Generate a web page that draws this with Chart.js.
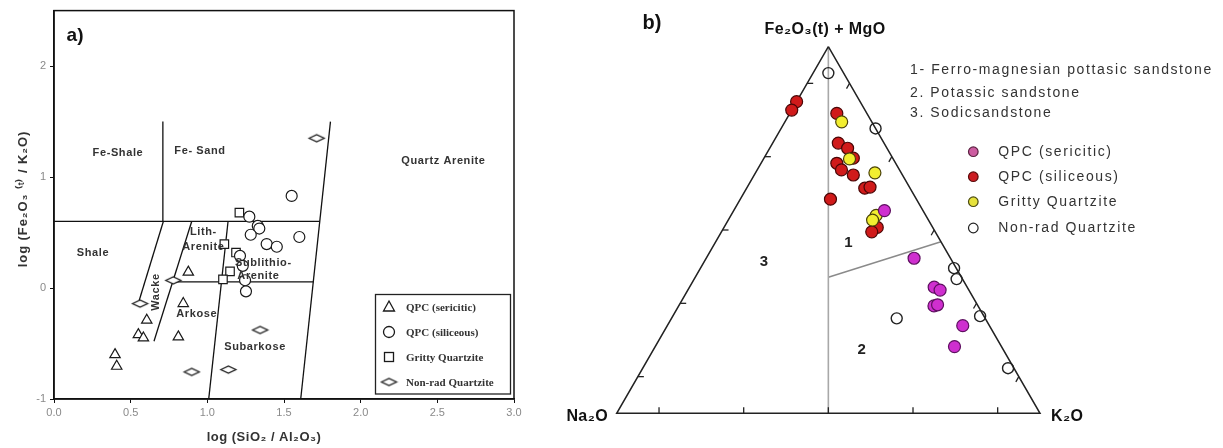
<!DOCTYPE html>
<html><head><meta charset="utf-8">
<script src="https://cdn.jsdelivr.net/npm/chart.js@4.4.1/dist/chart.umd.min.js"></script>
<style>
html,body{margin:0;padding:0;background:#fff;}
#wrap{position:relative;width:1223px;height:448px;overflow:hidden;background:#fff;}
#c1{position:absolute;left:0;top:0;}
#c2{position:absolute;left:560px;top:0;}
</style></head><body>
<div id="wrap"><canvas id="c1" width="560" height="448"></canvas><canvas id="c2" width="663" height="448"></canvas></div>
<script>
// ---------- Panel a) data : log(SiO2/Al2O3) vs log(Fe2O3(t)/K2O) ----------
const sericiticX = [0.876, 0.843, 0.605, 0.55, 0.583, 0.811, 0.398, 0.409];
const sericiticY = [0.143, -0.14, -0.29, -0.42, -0.45, -0.44, -0.60, -0.705];
const siliceousX = [1.55, 1.274, 1.329, 1.339, 1.283, 1.387, 1.453, 1.60, 1.213, 1.231, 1.246, 1.252];
const siliceousY = [0.83, 0.643, 0.56, 0.536, 0.48, 0.396, 0.372, 0.46, 0.29, 0.20, 0.07, -0.03];
const grittyX = [1.209, 1.111, 1.187, 1.148, 1.102];
const grittyY = [0.68, 0.396, 0.32, 0.15, 0.078];
const nonradX = [1.713, 0.561, 0.778, 1.344, 0.898, 1.137];
const nonradY = [1.35, -0.14, 0.069, -0.378, -0.756, -0.735];
// classification boundaries (Herron 1988 style), each [start, end]
const boundaryX = [[0.71, 0.71], [0, 1.733], [0.713, 0.556], [0.898, 0.652], [1.135, 1.009], [0.774, 1.691], [1.803, 1.609]];
const boundaryY = [[1.5, 0.6], [0.6, 0.6], [0.6, -0.11], [0.6, -0.48], [0.6, -1.0], [0.055, 0.055], [1.5, -1.0]];
const xTickValues = [0, 0.5, 1.0, 1.5, 2.0, 2.5, 3.0];
const yTickValues = [-1, 0, 1, 2];
const fieldNames = ['Fe-Shale', 'Fe- Sand', 'Quartz Arenite', 'Shale', 'Lith-', 'Arenite', 'Sublithio-', 'Arenite', 'Wacke', 'Arkose', 'Subarkose'];
const fieldX = [0.417, 0.952, 2.54, 0.254, 0.974, 0.974, 1.365, 1.333, 0.665, 0.931, 1.311];
const fieldY = [1.214, 1.232, 1.143, 0.32, 0.506, 0.366, 0.226, 0.113, -0.036, -0.23, -0.527];
const legendNamesA = ['QPC (sericitic)', 'QPC (siliceous)', 'Gritty Quartzite', 'Non-rad Quartzite'];

// ---------- Panel b) data : ternary Fe2O3(t)+MgO / Na2O / K2O (%) ----------
const serFeMg = [55.3, 42.3, 34.4, 33.6, 29.3, 29.6, 23.9, 18.2];
const serNa2O = [9.1, 8.6, 7.8, 6.8, 10.4, 9.4, 6.3, 11.1];
const serK2O  = [35.6, 49.1, 57.8, 59.6, 60.3, 61.0, 69.8, 70.7];
const silFeMg = [85.0, 82.7, 81.8, 73.7, 72.3, 69.6, 68.2, 66.4, 65.0, 61.4, 61.7, 58.4, 50.7, 49.5];
const silNa2O = [15.0, 17.3, 7.1, 10.8, 9.3, 9.3, 13.9, 13.7, 11.6, 10.7, 9.3, 20.3, 13.1, 15.0];
const silK2O  = [0.0, 0.0, 11.1, 15.5, 18.4, 21.1, 17.9, 19.9, 23.4, 27.9, 29.0, 21.3, 36.2, 35.5];
const griFeMg = [79.5, 69.4, 65.6, 54.0, 52.7];
const griNa2O = [7.1, 10.3, 6.2, 11.7, 13.2];
const griK2O  = [13.4, 20.3, 28.2, 34.3, 34.1];
const nonFeMg = [92.8, 77.7, 39.6, 36.6, 26.5, 12.3, 25.9];
const nonNa2O = [3.6, 0.0, 0.5, 1.4, 0.9, 1.4, 20.9];
const nonK2O  = [3.6, 22.3, 59.9, 62.0, 72.6, 86.3, 53.2];
// field boundaries in ternary % [FeMg, Na2O, K2O]
const centerLine = [[100, 0, 0], [0, 50, 50]];
const dividerLine = [[37.1, 31.45, 31.45], [46.8, 0, 53.2]];
const triangleCorners = [[100, 0, 0], [0, 100, 0], [0, 0, 100], [100, 0, 0]];
const ternTicks = [0.1, 0.3, 0.5, 0.7, 0.9];
const fieldNotes = ['1- Ferro-magnesian pottasic sandstone', '2. Potassic sandstone', '3. Sodicsandstone'];
const legendNamesB = ['QPC (sericitic)', 'QPC (siliceous)', 'Gritty Quartzite', 'Non-rad Quartzite'];

// ---------- helpers ----------
const zip = (xs, ys) => xs.map((x, i) => ({x: x, y: ys[i]}));
function tern(fe, na, k) {
  const s = fe + na + k, f = fe / s, kk = k / s;
  return {x: kk + f / 2, y: f * Math.sqrt(3) / 2};
}
const ternSet = (fe, na, k) => fe.map((v, i) => tern(v, na[i], k[i]));
function spacing(ctx, v) { if ('letterSpacing' in ctx) ctx.letterSpacing = v; }

function diamondImg(w, h, lw) {
  const c = document.createElement('canvas');
  c.width = w + 4; c.height = h + 4;
  const g = c.getContext('2d');
  g.beginPath();
  g.moveTo(2, 2 + h / 2); g.lineTo(2 + w / 2, 2); g.lineTo(2 + w, 2 + h / 2); g.lineTo(2 + w / 2, 2 + h);
  g.closePath();
  g.fillStyle = '#fff'; g.fill();
  g.lineWidth = lw; g.strokeStyle = '#1a1a1a'; g.stroke();
  return c;
}
const diamond = diamondImg(15, 7, 1.3);

Chart.defaults.font.family = 'Arial, "Liberation Sans", sans-serif';

// ---------- Panel a ----------
const lineSetsA = boundaryX.map((bx, i) => ({
  type: 'scatter', data: zip(bx, boundaryY[i]), showLine: true, borderColor: '#111', borderWidth: 1.3,
  pointRadius: 0, fill: false, order: 10
}));
const markA = {borderColor: '#1a1a1a', backgroundColor: 'rgba(255,255,255,1)', borderWidth: 1.2};

const plugA = {
  id: 'plugA',
  afterDraw(chart) {
    const ctx = chart.ctx, a = chart.chartArea, sx = chart.scales.x, sy = chart.scales.y;
    ctx.save();
    ctx.strokeStyle = '#111'; ctx.lineWidth = 1.5;
    ctx.strokeRect(a.left, a.top, a.right - a.left, a.bottom - a.top);
    // field labels
    ctx.fillStyle = '#333'; ctx.font = 'bold 11px Arial, "Liberation Sans"';
    spacing(ctx, '0.6px');
    ctx.textAlign = 'center'; ctx.textBaseline = 'middle';
    fieldNames.forEach((t, i) => {
      const px = sx.getPixelForValue(fieldX[i]), py = sy.getPixelForValue(fieldY[i]);
      if (t === 'Wacke') {
        ctx.save(); ctx.translate(px, py); ctx.rotate(-Math.PI / 2); ctx.fillText(t, 0, 0); ctx.restore();
      } else ctx.fillText(t, px, py);
    });
    spacing(ctx, '0px');
    // panel tag
    ctx.fillStyle = '#111'; ctx.font = 'bold 19px Arial, "Liberation Sans"';
    ctx.fillText('a)', sx.getPixelForValue(0.137), sy.getPixelForValue(2.27));
    // axis titles
    ctx.fillStyle = '#333'; ctx.font = 'bold 13px Arial, "Liberation Sans"';
    spacing(ctx, '0.5px');
    ctx.fillText('log (SiO\u2082 / Al\u2082O\u2083)', 264, 437);
    ctx.save(); ctx.translate(23, 199); ctx.rotate(-Math.PI / 2);
    spacing(ctx, '0.9px');
    ctx.fillText('log (Fe\u2082O\u2083 \u207D\u1D57\u207E / K\u2082O)', 0, 0); ctx.restore();
    spacing(ctx, '0px');
    // legend box
    const L = 375.5, T = 294.5, R = 510.5, B = 394;
    ctx.fillStyle = '#fff'; ctx.fillRect(L, T, R - L, B - T);
    ctx.strokeStyle = '#222'; ctx.lineWidth = 1.3; ctx.strokeRect(L, T, R - L, B - T);
    const ys = [307, 332, 357, 382], mx = 389;
    ctx.lineWidth = 1.3; ctx.strokeStyle = '#1a1a1a';
    ctx.beginPath(); ctx.moveTo(mx, ys[0] - 6); ctx.lineTo(mx + 5.5, ys[0] + 4); ctx.lineTo(mx - 5.5, ys[0] + 4); ctx.closePath(); ctx.stroke();
    ctx.beginPath(); ctx.arc(mx, ys[1], 5.5, 0, Math.PI * 2); ctx.stroke();
    ctx.strokeRect(mx - 4.5, ys[2] - 4.5, 9, 9);
    ctx.drawImage(diamond, mx - diamond.width / 2, ys[3] - diamond.height / 2);
    ctx.fillStyle = '#333'; ctx.font = 'bold 11px "Liberation Serif", "Times New Roman", serif';
    ctx.textAlign = 'left';
    legendNamesA.forEach((t, i) => ctx.fillText(t, 406, ys[i] + 1));
    ctx.restore();
  }
};

new Chart(document.getElementById('c1'), {
  type: 'scatter',
  data: {
    datasets: [
      Object.assign({label: legendNamesA[0], data: zip(sericiticX, sericiticY), pointStyle: 'triangle', pointRadius: 6, order: 1}, markA),
      Object.assign({label: legendNamesA[1], data: zip(siliceousX, siliceousY), pointStyle: 'circle', pointRadius: 5.5, order: 2}, markA),
      Object.assign({label: legendNamesA[2], data: zip(grittyX, grittyY), pointStyle: 'rect', pointRadius: 6, order: 3}, markA),
      Object.assign({label: legendNamesA[3], data: zip(nonradX, nonradY), pointStyle: diamond, pointRadius: 7, order: 4}, markA),
      ...lineSetsA
    ]
  },
  options: {
    responsive: false, animation: false, devicePixelRatio: 1,
    layout: {padding: {left: 0, top: 7, right: 46, bottom: 0}},
    plugins: {legend: {display: false}, tooltip: {enabled: false}},
    scales: {
      x: {
        type: 'linear', min: 0, max: 3,
        afterFit(s) { s.height = 49; },
        afterBuildTicks(s) { s.ticks = xTickValues.map(v => ({value: v})); },
        grid: {drawOnChartArea: false, color: '#111', tickLength: 4, tickWidth: 1},
        border: {color: '#111', width: 1.5},
        ticks: {color: '#8a8a8a', font: {size: 11}, padding: 3, callback: v => Number(v).toFixed(1)}
      },
      y: {
        type: 'linear', min: -1, max: 2.5,
        afterFit(s) { s.width = 54; },
        afterBuildTicks(s) { s.ticks = yTickValues.map(v => ({value: v})); },
        grid: {drawOnChartArea: false, color: '#111', tickLength: 4, tickWidth: 1},
        border: {color: '#111', width: 1.5},
        ticks: {color: '#8a8a8a', font: {size: 11}, padding: 4, callback: v => String(v)}
      }
    }
  },
  plugins: [plugA]
});

// ---------- Panel b ----------
const SQ = Math.sqrt(3) / 2;
const ternLine = (pts, color, w, order) => ({
  type: 'scatter', data: pts.map(p => tern(p[0], p[1], p[2])), showLine: true, borderColor: color, borderWidth: w,
  pointRadius: 0, fill: false, order: order, clip: false
});

const plugB = {
  id: 'plugB',
  afterDraw(chart) {
    const ctx = chart.ctx, sx = chart.scales.x, sy = chart.scales.y;
    const P = (x, y) => [sx.getPixelForValue(x), sy.getPixelForValue(y)];
    ctx.save();
    ctx.strokeStyle = '#222'; ctx.lineWidth = 1.3;
    ternTicks.forEach(t => {
      let p = P(t, 0); ctx.beginPath(); ctx.moveTo(p[0], p[1]); ctx.lineTo(p[0], p[1] - 6); ctx.stroke();
      p = P(t / 2, t * SQ); ctx.beginPath(); ctx.moveTo(p[0], p[1]); ctx.lineTo(p[0] + 6, p[1]); ctx.stroke();
      p = P(1 - t / 2, t * SQ); ctx.beginPath(); ctx.moveTo(p[0], p[1]); ctx.lineTo(p[0] - 3, p[1] + 5.2); ctx.stroke();
    });
    ctx.fillStyle = '#111'; ctx.textBaseline = 'middle';
    ctx.font = 'bold 20px Arial, "Liberation Sans"'; ctx.textAlign = 'center';
    ctx.fillText('b)', 92, 23);
    ctx.font = 'bold 16px Arial, "Liberation Sans"';
    spacing(ctx, '0.4px');
    ctx.fillText('Fe\u2082O\u2083(t) + MgO', 265, 30);
    ctx.textAlign = 'right'; ctx.fillText('Na\u2082O', 48, 417);
    ctx.textAlign = 'left'; ctx.fillText('K\u2082O', 491, 417);
    spacing(ctx, '0px');
    ctx.textAlign = 'center'; ctx.fillStyle = '#222';
    ctx.font = 'bold 15px Arial, "Liberation Sans"';
    ctx.fillText('1', 288.3, 243.3);
    ctx.fillText('3', 204, 261.7);
    ctx.fillText('2', 301.7, 350);
    // notes
    ctx.font = '14px Arial, "Liberation Sans"'; ctx.textAlign = 'left'; ctx.fillStyle = '#333';
    spacing(ctx, '1.6px');
    const ny = [70, 93.3, 113.3];
    fieldNotes.forEach((t, i) => ctx.fillText(t, 350, ny[i]));
    // legend
    const ly = [151.7, 176.7, 201.7, 228], mx = 413.3;
    const fills = ['#cc5ca0', '#cc1c22', '#e6e23c', '#ffffff'];
    const edges = ['#5a2040', '#5a0a0a', '#4a4a10', '#222'];
    legendNamesB.forEach((t, i) => {
      ctx.beginPath(); ctx.arc(mx, ly[i], 4.8, 0, Math.PI * 2);
      ctx.fillStyle = fills[i]; ctx.fill(); ctx.lineWidth = 1.2; ctx.strokeStyle = edges[i]; ctx.stroke();
      ctx.fillStyle = '#333'; ctx.fillText(t, 438.3, ly[i]);
    });
    spacing(ctx, '0px');
    ctx.restore();
  }
};

new Chart(document.getElementById('c2'), {
  type: 'scatter',
  data: {
    datasets: [
      {label: legendNamesB[0], data: ternSet(serFeMg, serNa2O, serK2O), pointStyle: 'circle', pointRadius: 6,
       backgroundColor: '#cf2fcf', borderColor: '#5e1060', borderWidth: 1.2, order: 1, clip: false},
      {label: legendNamesB[1], data: ternSet(silFeMg, silNa2O, silK2O), pointStyle: 'circle', pointRadius: 6,
       backgroundColor: '#d01a1a', borderColor: '#4a0606', borderWidth: 1.2, order: 2, clip: false},
      {label: legendNamesB[2], data: ternSet(griFeMg, griNa2O, griK2O), pointStyle: 'circle', pointRadius: 6,
       backgroundColor: '#f2ee30', borderColor: '#4a4208', borderWidth: 1.2, order: 1.5, clip: false},
      {label: legendNamesB[3], data: ternSet(nonFeMg, nonNa2O, nonK2O), pointStyle: 'circle', pointRadius: 5.5,
       backgroundColor: 'rgba(255,255,255,0)', borderColor: '#222', borderWidth: 1.4, order: 0.5, clip: false},
      ternLine(triangleCorners, '#222', 1.5, 10),
      ternLine(centerLine, '#a8a8a8', 1.6, 11),
      ternLine(dividerLine, '#8a8a8a', 1.4, 11)
    ]
  },
  options: {
    responsive: false, animation: false, devicePixelRatio: 1,
    layout: {padding: {left: 56.7, top: 46.7, right: 183, bottom: 34.7}},
    plugins: {legend: {display: false}, tooltip: {enabled: false}},
    scales: {
      x: {type: 'linear', min: 0, max: 1, display: false},
      y: {type: 'linear', min: 0, max: SQ, display: false}
    }
  },
  plugins: [plugB]
});
</script>
</body></html>
